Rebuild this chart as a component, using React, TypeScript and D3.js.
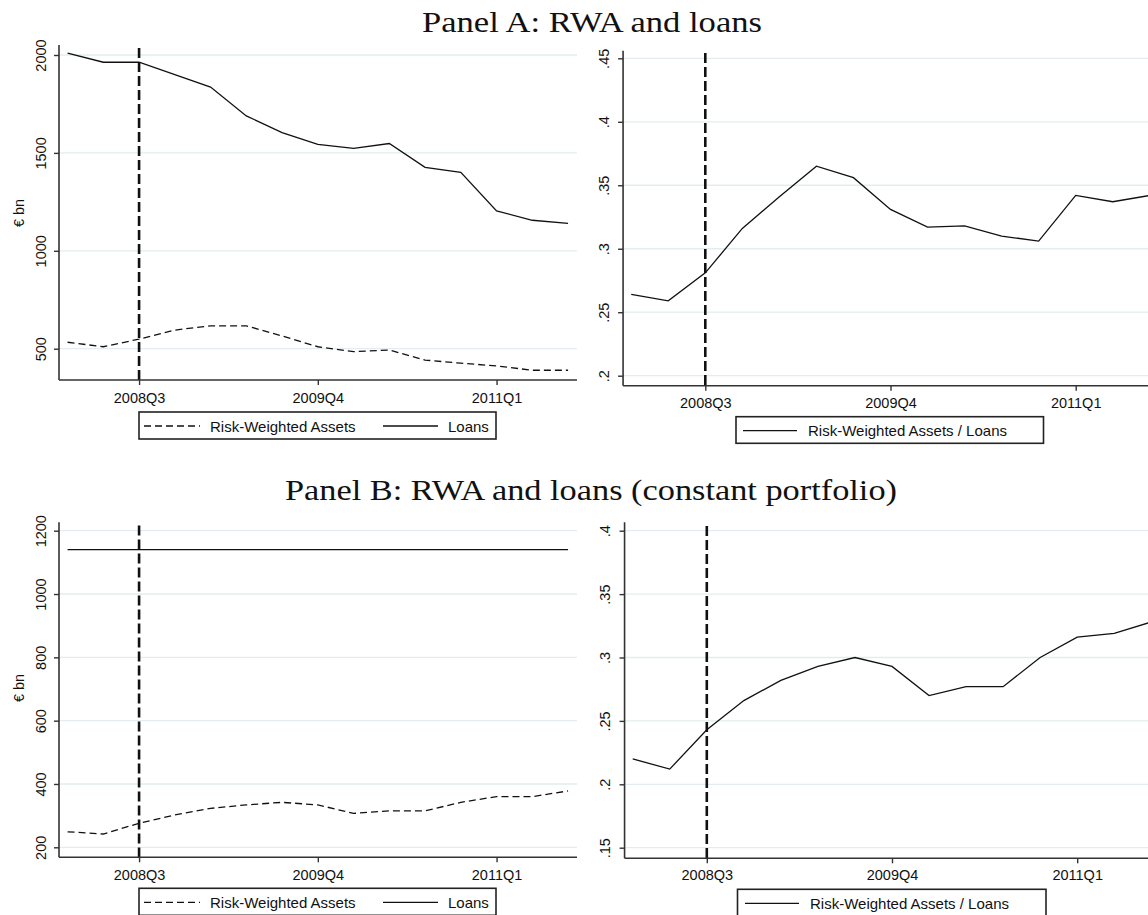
import React, { useRef, useEffect } from 'react';
import * as d3 from 'd3';

// quarters shown on the x axis (2008Q1 .. 2011Q3)
const quarters = [
  '2008Q1', '2008Q2', '2008Q3', '2008Q4',
  '2009Q1', '2009Q2', '2009Q3', '2009Q4',
  '2010Q1', '2010Q2', '2010Q3', '2010Q4',
  '2011Q1', '2011Q2', '2011Q3',
];
const xTickQuarters = ['2008Q3', '2009Q4', '2011Q1'];
const breakQuarter = '2008Q3';

// Panel A
const loansA = [2010, 1963, 1963, 1900, 1836, 1689, 1604, 1543, 1523, 1548, 1426, 1401, 1204, 1156, 1140];
const rwaA = [533, 510, 549, 595, 617, 617, 565, 510, 485, 493, 442, 426, 412, 390, 390];
const ratioA = [0.264, 0.259, 0.281, 0.316, 0.341, 0.365, 0.356, 0.331, 0.317, 0.318, 0.31, 0.306, 0.342, 0.337, 0.342];

// Panel B (constant portfolio)
const loansB = [1140, 1140, 1140, 1140, 1140, 1140, 1140, 1140, 1140, 1140, 1140, 1140, 1140, 1140, 1140];
const rwaB = [249, 242, 276, 302, 323, 334, 342, 334, 307, 315, 315, 342, 360, 360, 378];
const ratioB = [0.22, 0.212, 0.243, 0.266, 0.282, 0.293, 0.3, 0.293, 0.27, 0.277, 0.277, 0.3, 0.316, 0.319, 0.328];

const yTicksA = [500, 1000, 1500, 2000];
const yTicksAr = [0.2, 0.25, 0.3, 0.35, 0.4, 0.45];
const yTicksB = [200, 400, 600, 800, 1000, 1200];
const yTicksBr = [0.15, 0.2, 0.25, 0.3, 0.35, 0.4];

const ratioFmt = (d: number) => String(d).replace(/^0/, '');

const SANS = '"Liberation Sans", Arial, sans-serif';
const SERIF = '"Liberation Serif", "Times New Roman", serif';
const INK = '#111';

type Series = { label: string; values: number[]; dashed: boolean };
type Panel = {
  series: Series[];
  legendOrder: Series[];
  xDomain: [number, number];
  xRange: [number, number];
  yDomain: [number, number];
  yRange: [number, number];
  yTicks: number[];
  fmt: (d: number) => string;
  top: number;
  bottom: number;
  vTop: number;
  labelX: number;
  xLabelDy: number;
  legend: { x: number; y: number; w: number; h: number; items: { sx: number; sw: number; tx: number }[] };
  yTitle?: { x: number; y: number };
};

function drawPanel(svg: d3.Selection<SVGSVGElement, unknown, null, undefined>, p: Panel) {
  const x = d3.scaleLinear().domain(p.xDomain).range(p.xRange);
  const y = d3.scaleLinear().domain(p.yDomain).range(p.yRange);
  const left = p.xRange[0];
  const right = p.xRange[1];
  const g = svg.append('g');

  // gridlines
  g.append('g')
    .selectAll('line')
    .data(p.yTicks)
    .join('line')
    .attr('x1', left)
    .attr('x2', right)
    .attr('y1', (d) => y(d))
    .attr('y2', (d) => y(d))
    .attr('stroke', '#e3edef')
    .attr('stroke-width', 1.3);

  // series
  const line = d3
    .line<number>()
    .x((_, i) => x(i))
    .y((d) => y(d));
  p.series.forEach((s) => {
    g.append('path')
      .datum(s.values)
      .attr('d', line)
      .attr('fill', 'none')
      .attr('stroke', INK)
      .attr('stroke-width', 1.3)
      .attr('stroke-dasharray', s.dashed ? '7,4' : null);
  });

  // event line
  const bx = x(quarters.indexOf(breakQuarter));
  g.append('line')
    .attr('x1', bx)
    .attr('x2', bx)
    .attr('y1', p.vTop)
    .attr('y2', p.bottom)
    .attr('stroke', INK)
    .attr('stroke-width', 2.6)
    .attr('stroke-dasharray', '10,4');

  // axis lines
  g.append('line')
    .attr('x1', left)
    .attr('x2', left)
    .attr('y1', p.top)
    .attr('y2', p.bottom)
    .attr('stroke', '#333')
    .attr('stroke-width', 1.6);
  g.append('line')
    .attr('x1', left)
    .attr('x2', right)
    .attr('y1', p.bottom)
    .attr('y2', p.bottom)
    .attr('stroke', '#333')
    .attr('stroke-width', 1.6);

  // y axis ticks + rotated labels
  const yAxis = g
    .append('g')
    .attr('transform', `translate(${left},0)`)
    .call(d3.axisLeft(y).tickValues(p.yTicks).tickFormat((d) => p.fmt(d as number)).tickSize(5).tickSizeOuter(0));
  yAxis.select('.domain').remove();
  yAxis.selectAll('line').attr('stroke', '#333').attr('stroke-width', 1.4);
  yAxis
    .selectAll<SVGTextElement, number>('text')
    .attr('transform', 'rotate(-90)')
    .attr('x', 0)
    .attr('y', p.labelX - left)
    .attr('dy', 0)
    .attr('text-anchor', 'middle')
    .attr('fill', INK)
    .style('font', `14.5px ${SANS}`);
  yAxis.selectAll('.tick').each(function (d) {
    d3.select(this).select('text').attr('transform', 'rotate(-90)');
  });

  // x axis
  const xAxis = g
    .append('g')
    .attr('transform', `translate(0,${p.bottom})`)
    .call(
      d3
        .axisBottom(x)
        .tickValues(xTickQuarters.map((q) => quarters.indexOf(q)))
        .tickFormat((i) => quarters[i as number])
        .tickSize(5)
        .tickSizeOuter(0)
    );
  xAxis.select('.domain').remove();
  xAxis.selectAll('line').attr('stroke', '#333').attr('stroke-width', 1.4);
  xAxis
    .selectAll('text')
    .attr('y', p.xLabelDy)
    .attr('dy', 0)
    .attr('fill', INK)
    .style('font', `14.5px ${SANS}`);

  // y title
  if (p.yTitle) {
    g.append('text')
      .attr('transform', `translate(${p.yTitle.x},${p.yTitle.y}) rotate(-90)`)
      .attr('text-anchor', 'middle')
      .attr('fill', INK)
      .style('font', `14.5px ${SANS}`)
      .text('€ bn');
  }

  // legend
  const L = p.legend;
  const lg = g.append('g');
  lg.append('rect')
    .attr('x', L.x)
    .attr('y', L.y)
    .attr('width', L.w)
    .attr('height', L.h)
    .attr('fill', '#fff')
    .attr('stroke', '#222')
    .attr('stroke-width', 1.6);
  p.legendOrder.forEach((s, i) => {
    const it = L.items[i];
    lg.append('line')
      .attr('x1', it.sx)
      .attr('x2', it.sx + it.sw)
      .attr('y1', L.y + 14)
      .attr('y2', L.y + 14)
      .attr('stroke', INK)
      .attr('stroke-width', 1.3)
      .attr('stroke-dasharray', s.dashed ? '7,4' : null);
    lg.append('text')
      .attr('x', it.tx)
      .attr('y', L.y + 19.5)
      .attr('fill', INK)
      .style('font', `15px ${SANS}`)
      .text(s.label);
  });
}

const App = () => {
  const svgRef = useRef<SVGSVGElement>(null);

  useEffect(() => {
    if (!svgRef.current) return;
    const svg = d3.select(svgRef.current);
    svg.selectAll('*').remove();

    const rwaSeriesA = { label: 'Risk-Weighted Assets', values: rwaA, dashed: true };
    const loanSeriesA = { label: 'Loans', values: loansA, dashed: false };
    const ratioSeriesA = { label: 'Risk-Weighted Assets / Loans', values: ratioA, dashed: false };
    const rwaSeriesB = { label: 'Risk-Weighted Assets', values: rwaB, dashed: true };
    const loanSeriesB = { label: 'Loans', values: loansB, dashed: false };
    const ratioSeriesB = { label: 'Risk-Weighted Assets / Loans', values: ratioB, dashed: false };

    const leftItems = [
      { sx: 144, sw: 56, tx: 210 },
      { sx: 383, sw: 55, tx: 448 },
    ];

    // Panel A left
    drawPanel(svg, {
      series: [loanSeriesA, rwaSeriesA],
      legendOrder: [rwaSeriesA, loanSeriesA],
      xDomain: [-0.24, 14.25],
      xRange: [59, 577],
      yDomain: [500, 2000],
      yRange: [348.7, 55],
      yTicks: yTicksA,
      fmt: (d) => String(d),
      top: 45,
      bottom: 380,
      vTop: 48,
      labelX: 46,
      xLabelDy: 23.3,
      legend: { x: 139, y: 412, w: 357, h: 27, items: leftItems },
      yTitle: { x: 24, y: 213 },
    });

    // Panel A right
    drawPanel(svg, {
      series: [ratioSeriesA],
      legendOrder: [ratioSeriesA],
      xDomain: [-0.22, 14.4],
      xRange: [705.3 - 2.22 * 37.04, 705.3 + 12.4 * 37.04],
      yDomain: [0.2, 0.45],
      yRange: [375.7, 58.3],
      yTicks: yTicksAr,
      fmt: ratioFmt,
      top: 50.7,
      bottom: 385.7,
      vTop: 53,
      labelX: 609,
      xLabelDy: 22.6,
      legend: { x: 736, y: 416.7, w: 307.5, h: 26.6, items: [{ sx: 743, sw: 54, tx: 808 }] },
    });

    // Panel B left
    drawPanel(svg, {
      series: [loanSeriesB, rwaSeriesB],
      legendOrder: [rwaSeriesB, loanSeriesB],
      xDomain: [-0.24, 14.25],
      xRange: [59, 577],
      yDomain: [200, 1200],
      yRange: [847.3, 530.7],
      yTicks: yTicksB,
      fmt: (d) => String(d),
      top: 522.3,
      bottom: 857.3,
      vTop: 525.5,
      labelX: 46,
      xLabelDy: 22.7,
      legend: { x: 139, y: 888.3, w: 357, h: 27, items: leftItems },
      yTitle: { x: 24, y: 688 },
    });

    // Panel B right
    drawPanel(svg, {
      series: [ratioSeriesB],
      legendOrder: [ratioSeriesB],
      xDomain: [-0.22, 14.4],
      xRange: [706.8 - 2.22 * 37.04, 706.8 + 12.4 * 37.04],
      yDomain: [0.15, 0.4],
      yRange: [847.7, 530.7],
      yTicks: yTicksBr,
      fmt: ratioFmt,
      top: 522.3,
      bottom: 858.3,
      vTop: 526,
      labelX: 609.5,
      xLabelDy: 21.7,
      legend: { x: 737.5, y: 889.3, w: 308.5, h: 27, items: [{ sx: 745, sw: 54, tx: 810 }] },
    });

    // panel titles
    svg.append('text')
      .attr('x', 592)
      .attr('y', 31.7)
      .attr('text-anchor', 'middle')
      .attr('textLength', 340)
      .attr('lengthAdjust', 'spacingAndGlyphs')
      .attr('fill', INK)
      .style('font', `30px ${SERIF}`)
      .text('Panel A: RWA and loans');
    svg.append('text')
      .attr('x', 591)
      .attr('y', 500)
      .attr('text-anchor', 'middle')
      .attr('textLength', 612)
      .attr('lengthAdjust', 'spacingAndGlyphs')
      .attr('fill', INK)
      .style('font', `30px ${SERIF}`)
      .text('Panel B: RWA and loans (constant portfolio)');

    return () => {
      svg.selectAll('*').remove();
    };
  }, []);

  return (
    <svg
      ref={svgRef}
      width={1148}
      height={915}
      style={{ position: 'absolute', left: 0, top: 0, background: '#fff' }}
    />
  );
};

export default App;
